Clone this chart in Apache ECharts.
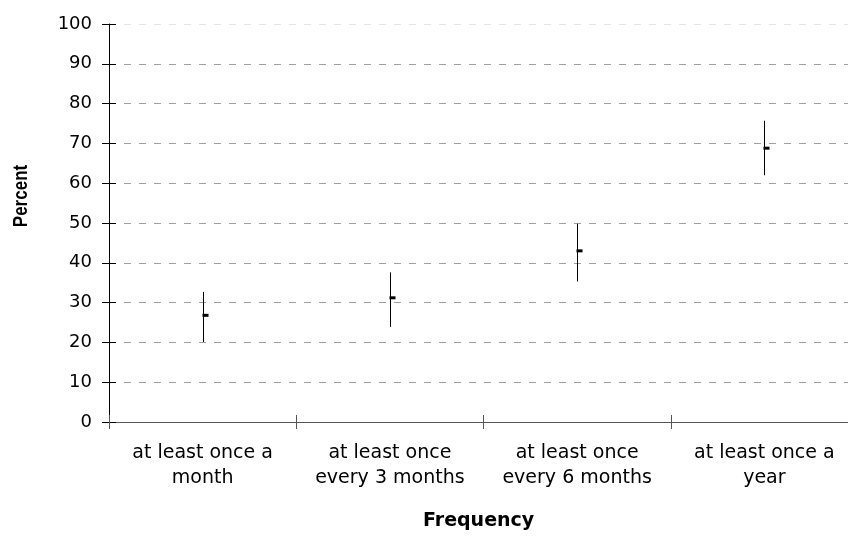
<!DOCTYPE html>
<html>
<head>
<meta charset="utf-8">
<script src="https://cdn.jsdelivr.net/npm/echarts@6/dist/echarts.min.js"></script>
<style>html,body{margin:0;padding:0;background:#fff;overflow:hidden;width:848px;height:536px;}#c{width:862px;height:536px;}</style>
</head>
<body>
<div id="c"></div>
<script>
var categories = ['at least once a\nmonth', 'at least once\nevery 3 months', 'at least once\nevery 6 months', 'at least once a\nyear'];
var estimates = [26.8, 31.2, 43.0, 68.8];
var lowerBounds = [20.1, 23.9, 35.3, 62.0];
var upperBounds = [32.7, 37.6, 49.8, 75.7];
var yTicks = [0, 10, 20, 30, 40, 50, 60, 70, 80, 90, 100];

var seriesData = categories.map(function (c, i) { return [i, estimates[i], lowerBounds[i], upperBounds[i]]; });
var FONT = 'DejaVu Sans';

var chart = echarts.init(document.getElementById('c'), null, { renderer: 'canvas' });
chart.setOption({
  animation: false,
  backgroundColor: '#ffffff',
  grid: { left: 109, top: 24, width: 749, height: 398, containLabel: false },
  xAxis: [{
    type: 'category', data: categories, position: 'bottom', boundaryGap: true,
    axisLine: { lineStyle: { color: '#555', width: 1 } },
    axisTick: { show: true, length: 7, interval: 0, lineStyle: { color: '#555' } },
    axisLabel: { interval: 0, color: '#000', fontFamily: FONT, fontSize: 19, lineHeight: 25, margin: 19 },
    splitLine: { show: false }
  }, {
    type: 'category', data: categories, position: 'bottom', boundaryGap: true,
    axisLine: { show: false },
    axisTick: { show: true, inside: true, length: 7, interval: 0, lineStyle: { color: '#555' } },
    axisLabel: { show: false }, splitLine: { show: false }
  }],
  yAxis: [{
    type: 'value', min: yTicks[0], max: yTicks[yTicks.length - 1], interval: 10, position: 'left',
    axisLine: { show: true, lineStyle: { color: '#000', width: 1 } },
    axisTick: { show: true, length: 7, lineStyle: { color: '#000' } },
    axisLabel: { color: '#000', fontFamily: FONT, fontSize: 18, margin: 17 },
    splitLine: { show: true, lineStyle: { color: ['#a0a0a0','#a0a0a0','#a0a0a0','#a0a0a0','#a0a0a0','#a0a0a0','#a0a0a0','#a0a0a0','#a0a0a0','#a0a0a0','#e6e6e6'], type: [7, 8], width: 1 } }
  }, {
    type: 'value', min: yTicks[0], max: yTicks[yTicks.length - 1], interval: 10, position: 'left',
    axisLine: { show: false },
    axisTick: { show: true, inside: true, length: 7, lineStyle: { color: '#000' } },
    axisLabel: { show: false }, splitLine: { show: false }
  }],
  graphic: [{
    type: 'text', left: 479 - 56, top: 512,
    style: { text: 'Frequency', font: 'bold 19px "DejaVu Sans"', fill: '#000' }
  }, {
    type: 'text', x: 21, y: 196, rotation: Math.PI / 2, scaleY: 1.2,
    style: { text: 'Percent', font: 'bold 17px "Liberation Sans"', fill: '#000', align: 'center', verticalAlign: 'middle' }
  }],
  series: [{
    type: 'custom', xAxisIndex: 0, yAxisIndex: 0, data: seriesData,
    renderItem: function (params, api) {
      var x = api.coord([api.value(0), api.value(1)])[0];
      x = Math.round(x) + 0.5;
      var yv = api.coord([api.value(0), api.value(1)])[1];
      var yl = api.coord([api.value(0), api.value(2)])[1];
      var yh = api.coord([api.value(0), api.value(3)])[1];
      return {
        type: 'group', children: [
          { type: 'line', shape: { x1: x, y1: yh, x2: x, y2: yl }, style: { stroke: '#000', lineWidth: 1 } },
          { type: 'rect', shape: { x: x - 1, y: yv - 1.5, width: 6, height: 3 }, style: { fill: '#000' } }
        ]
      };
    }
  }]
});
</script>
</body>
</html>
